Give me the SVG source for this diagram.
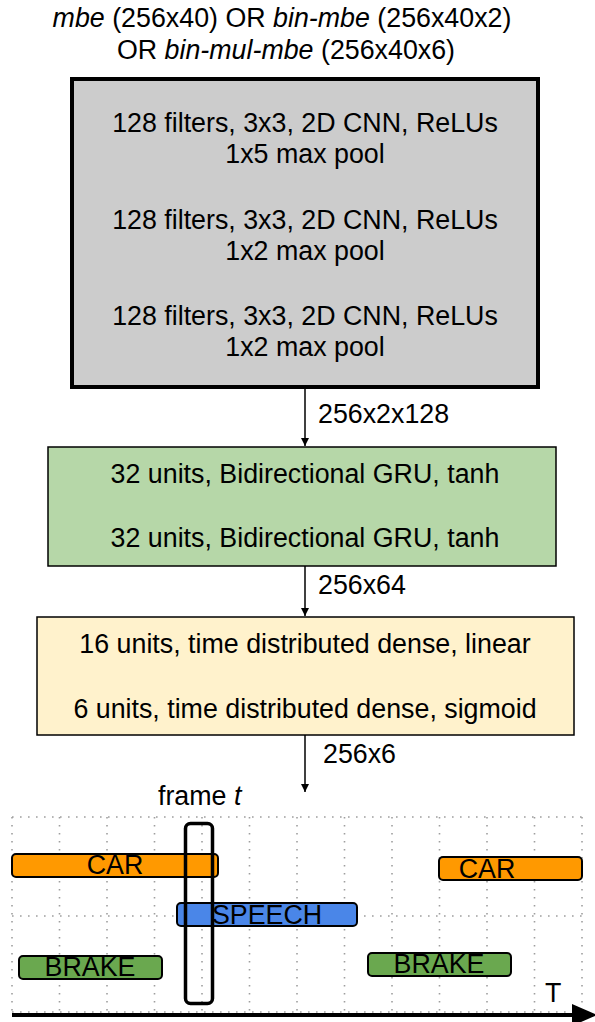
<svg xmlns="http://www.w3.org/2000/svg" width="595" height="1022" viewBox="0 0 595 1022">
<defs>
<style>
text{font-family:"Liberation Sans",Arial,sans-serif;font-size:26.8px;fill:#000}
.c{text-anchor:middle}
.i{font-style:italic}
.conn{stroke:#000;stroke-width:1.5;fill:none}
.grid{stroke:#9e9e9e;stroke-width:1.6;stroke-dasharray:1.6 6.4;fill:none}
.bar{stroke:#000;stroke-width:2}
.bl{font-size:26.8px;text-anchor:middle}
</style>
<marker id="ah" viewBox="0 0 10 10" refX="10" refY="5" markerWidth="8" markerHeight="8" markerUnits="userSpaceOnUse" orient="auto">
<path d="M0,0 L10,5 L0,10 z" fill="#000"/>
</marker>
</defs>
<rect width="595" height="1022" fill="#fff"/>
<g id="title">
<text class="c" x="282" y="27"><tspan class="i">mbe</tspan> (256x40) OR <tspan class="i">bin-mbe</tspan> (256x40x2)</text>
<text class="c" x="286" y="59">OR <tspan class="i">bin-mul-mbe</tspan> (256x40x6)</text>
</g>
<g id="cnn">
<rect x="72" y="79" width="466" height="308" fill="#cccccc" stroke="#000" stroke-width="4"/>
<text class="c" x="305" y="132">128 filters, 3x3, 2D CNN, ReLUs</text>
<text class="c" x="305" y="163">1x5 max pool</text>
<text class="c" x="305" y="229">128 filters, 3x3, 2D CNN, ReLUs</text>
<text class="c" x="305" y="260">1x2 max pool</text>
<text class="c" x="305" y="325">128 filters, 3x3, 2D CNN, ReLUs</text>
<text class="c" x="305" y="356">1x2 max pool</text>
</g>
<g id="gru">
<rect x="48" y="447" width="508" height="119" fill="#b6d7a8" stroke="#000" stroke-width="1.5"/>
<text class="c" x="305" y="483">32 units, Bidirectional GRU, tanh</text>
<text class="c" x="305" y="547">32 units, Bidirectional GRU, tanh</text>
</g>
<g id="dense">
<rect x="37" y="617" width="537" height="118" fill="#fff2cc" stroke="#000" stroke-width="1.5"/>
<text class="c" x="305" y="653">16 units, time distributed dense, linear</text>
<text class="c" x="305" y="718">6 units, time distributed dense, sigmoid</text>
</g>
<g id="connectors">
<line class="conn" x1="305" y1="389" x2="305" y2="446" marker-end="url(#ah)"/>
<text x="318" y="423">256x2x128</text>
<line class="conn" x1="305" y1="566" x2="305" y2="616" marker-end="url(#ah)"/>
<text x="318" y="594">256x64</text>
<line class="conn" x1="305" y1="735" x2="305" y2="792" marker-end="url(#ah)"/>
<text x="323" y="763">256x6</text>
</g>
<g id="timeline">
<text x="158" y="805">frame <tspan class="i">t</tspan></text>
<g id="grid">
<path class="grid" d="M12,817 H582 M12,916 H582 M12,1012 H582"/>
<path class="grid" d="M12,817 V1012 M59.5,817 V1012 M107,817 V1012 M154.5,817 V1012 M202,817 V1012 M249.5,817 V1012 M297,817 V1012 M344.5,817 V1012 M392,817 V1012 M439.5,817 V1012 M487,817 V1012 M534.5,817 V1012 M582,817 V1012"/>
</g>
<g id="car1">
<rect class="bar" x="12" y="854" width="206" height="23" rx="4" fill="#ff9900"/>
<text class="bl" x="115" y="874">CAR</text>
</g>
<g id="car2">
<rect class="bar" x="439" y="857" width="143" height="23" rx="4" fill="#ff9900"/>
<text class="bl" x="487" y="878">CAR</text>
</g>
<g id="speech">
<rect class="bar" x="177" y="903" width="180" height="23" rx="4" fill="#4a86e8"/>
<text class="bl" x="267" y="924">SPEECH</text>
</g>
<g id="brake1">
<rect class="bar" x="19" y="956" width="143" height="23" rx="4" fill="#6aa84f"/>
<text class="bl" x="90" y="976">BRAKE</text>
</g>
<g id="brake2">
<rect class="bar" x="368" y="953" width="143" height="23" rx="4" fill="#6aa84f"/>
<text class="bl" x="439" y="973">BRAKE</text>
</g>
<rect id="frame" x="185.5" y="823.5" width="27" height="180" rx="5" fill="none" stroke="#000" stroke-width="3.5"/>
<text x="545" y="1002">T</text>
<line x1="12" y1="1015" x2="575" y2="1015" stroke="#000" stroke-width="4"/>
<path d="M572,1004 L597,1015 L572,1026 z" fill="#000"/>
</g>
</svg>
